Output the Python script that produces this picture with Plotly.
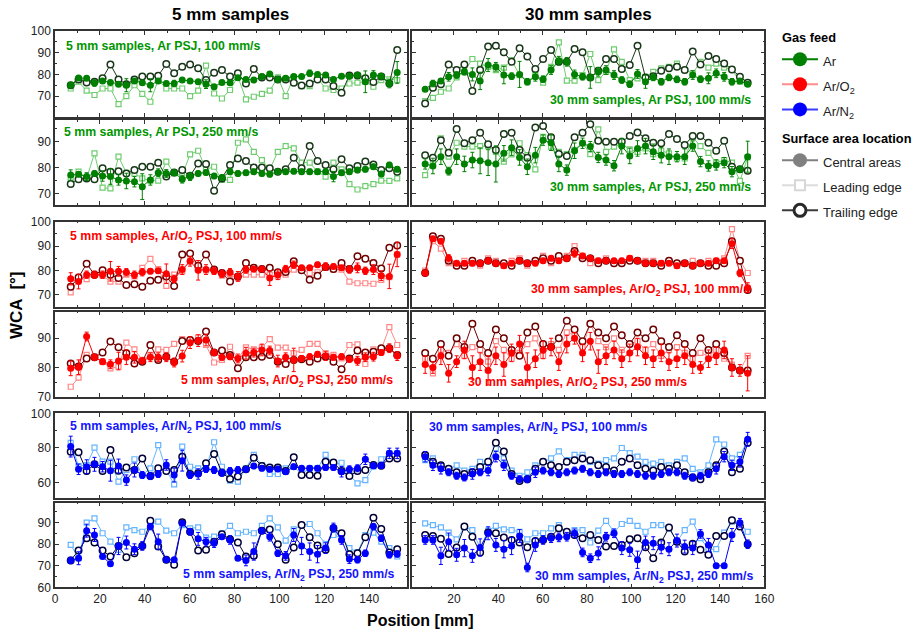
import plotly.graph_objects as go

# Measurement positions along the sample [mm]
position_mm = [7.0, 10.5, 14.1, 17.6, 21.2, 24.7, 28.3, 31.8, 35.4, 38.9,
               42.5, 46.0, 49.6, 53.1, 56.7, 60.2, 63.8, 67.3, 70.9, 74.4,
               78.0, 81.5, 85.1, 88.6, 92.2, 95.7, 99.3, 102.8, 106.4, 109.9,
               113.5, 117.0, 120.6, 124.1, 127.7, 131.2, 134.8, 138.3, 141.9, 145.4,
               149.0, 152.5]

# ---- Ar PSJ, 100 mm/s, 5 mm samples ----
ar100_5_central = [75.0, 78.3, 78.2, 76.0, 77.0, 76.3, 75.5, 75.0, 77.0, 76.2,
                   75.0, 77.0, 75.8, 75.8, 77.4, 77.0, 76.6, 75.5, 74.3, 76.3,
                   76.2, 78.5, 77.7, 77.4, 79.0, 80.2, 77.7, 78.2, 79.0, 79.0,
                   80.5, 80.0, 79.7, 77.7, 79.2, 79.2, 79.7, 76.6, 79.7, 79.2,
                   75.8, 80.9]
ar100_5_err = [1, 1, 1, 1.5, 1, 1, 1, 3, 1, 1, 3, 1, 1, 1.5, 1, 1, 1, 2, 1, 1,
               1, 1, 1, 1, 1, 1, 1, 1, 1, 1, 1.5, 1, 1, 1, 1, 1, 1, 5, 2, 1, 2, 5]
ar100_5_leading = [73.5, 76.6, 72.5, 70.5, 73.5, 73.5, 66.3, 70.0, 75.0, 71.0,
                   67.4, 77.4, 73.5, 73.5, 73.5, 70.0, 72.5, 84.0, 71.2, 68.9,
                   72.8, 79.0, 68.5, 69.7, 71.0, 72.5, 78.6, 70.0, 78.6, 74.6,
                   74.6, 78.2, 73.5, 72.8, 73.5, 75.8, 76.2, 76.6, 74.3, 77.4,
                   77.7, 77.4]
ar100_5_trailing = [75.0, 77.7, 76.3, 76.6, 78.2, 84.6, 77.7, 75.4, 77.7, 79.0,
                    79.0, 79.4, 84.8, 80.5, 83.5, 84.6, 82.8, 77.4, 80.8, 82.0,
                    79.0, 80.5, 75.8, 82.5, 78.6, 78.6, 77.7, 77.7, 76.2, 74.9,
                    75.8, 77.7, 77.7, 74.6, 71.5, 79.5, 79.5, 78.2, 76.5, 79.0,
                    75.8, 91.2]

# ---- Ar PSJ, 100 mm/s, 30 mm samples ----
ar100_30_central = [73.2, 75.8, 77.0, 78.9, 79.7, 81.2, 80.0, 77.0, 84.3, 83.5,
                    79.7, 79.2, 80.0, 76.6, 78.9, 77.8, 82.0, 86.3, 85.8, 80.0,
                    78.9, 78.6, 81.2, 82.0, 79.7, 77.4, 75.5, 80.2, 76.6, 78.6,
                    76.6, 78.6, 77.7, 76.6, 79.7, 77.8, 78.2, 80.5, 78.9, 76.6,
                    77.0, 75.5]
ar100_30_err = [1, 1.5, 1, 2, 1.5, 1.5, 3, 4, 3, 2, 4, 1.5, 6, 1.5, 2, 1.5, 2, 2, 2, 2,
                1.5, 5, 2, 2, 2, 1.5, 1.5, 2, 3, 1.5, 1.5, 1.5, 1.5, 1.5, 2, 1.5, 2.5, 2, 2, 1.5,
                1, 1]
ar100_30_leading = [67.7, 69.2, 72.0, 73.5, 78.6, 81.2, 87.1, 85.0, 83.5, 82.0,
                    83.1, 86.6, 79.7, 76.6, 79.7, 76.2, 83.5, 94.8, 77.1, 77.1,
                    79.7, 89.4, 77.4, 81.2, 91.5, 85.8, 77.4, 78.2, 78.9, 81.2,
                    82.8, 83.5, 85.0, 82.0, 80.5, 85.8, 83.1, 85.0, 83.1, 82.3,
                    76.6, 75.8]
ar100_30_trailing = [66.6, 73.8, 75.4, 84.6, 82.0, 84.6, 72.3, 82.0, 92.8, 93.2,
                     90.2, 85.8, 92.0, 88.2, 82.5, 87.1, 91.2, 85.8, 85.8, 91.7,
                     90.2, 78.6, 81.7, 87.1, 87.1, 82.5, 84.3, 93.2, 78.6, 79.2,
                     81.7, 82.8, 83.5, 82.0, 90.5, 84.6, 88.5, 87.1, 85.0, 82.3,
                     78.9, 76.2]

# ---- Ar PSJ, 250 mm/s, 5 mm samples ----
ar250_5_central = [77.1, 77.4, 76.5, 77.7, 76.7, 76.5, 75.2, 74.8, 74.5, 72.6,
                   75.2, 78.0, 77.7, 78.0, 75.5, 76.5, 77.7, 78.1, 76.7, 76.1,
                   78.4, 77.7, 78.0, 78.4, 77.7, 77.4, 78.4, 78.4, 78.6, 78.4,
                   78.4, 78.4, 78.4, 76.5, 78.0, 78.4, 79.0, 79.3, 80.3, 77.5,
                   81.0, 79.3]
ar250_5_err = [2, 1, 1.5, 1, 2, 3, 2, 3, 2, 5, 2, 1.5, 1.5, 1, 1.5, 1.5, 1, 1, 1, 1,
               1, 1, 1, 1, 1, 1, 1, 1, 1, 1, 1, 1, 1, 2, 1, 1, 1, 1, 1, 1, 1, 1]
ar250_5_leading = [75.2, 78.4, 75.8, 85.5, 72.2, 71.9, 84.2, 77.9, 77.7, 75.8,
                   74.9, 74.9, 82.3, 77.7, 77.1, 85.1, 86.5, 79.3, 80.3, 75.2,
                   75.2, 89.6, 90.9, 86.1, 82.9, 79.3, 86.1, 88.3, 87.4, 81.9,
                   81.9, 78.4, 76.5, 81.9, 79.3, 73.6, 71.5, 72.8, 73.6, 74.9,
                   74.8, 75.8]
ar250_5_trailing = [73.6, 75.5, 75.8, 75.5, 79.7, 78.4, 78.6, 77.7, 79.0, 80.3,
                    80.3, 81.9, 76.5, 78.1, 79.0, 76.8, 81.6, 81.4, 71.0, 75.8,
                    81.0, 83.5, 82.5, 80.0, 80.0, 79.7, 78.4, 79.3, 83.8, 79.7,
                    88.3, 82.5, 81.0, 79.3, 83.2, 79.7, 80.6, 82.3, 81.2, 79.0,
                    79.7, 78.4]

# ---- Ar PSJ, 250 mm/s, 30 mm samples ----
ar250_30_central = [81.4, 80.6, 84.2, 78.6, 84.2, 81.4, 82.9, 82.6, 81.9, 81.4,
                    85.5, 87.7, 83.9, 80.3, 84.8, 90.6, 89.6, 81.4, 79.0, 86.5,
                    89.4, 88.1, 83.9, 82.9, 80.7, 88.3, 84.5, 87.4, 88.3, 86.1,
                    84.8, 84.2, 84.2, 84.2, 88.3, 82.3, 80.6, 81.0, 81.9, 78.4,
                    79.3, 84.2]
ar250_30_err = [2, 3, 3, 1.5, 3, 3, 3, 5, 5, 7, 3, 3, 3, 3, 3, 2, 3, 3, 2, 3,
                2, 2, 2, 2, 2, 3, 3, 3, 3, 3, 3, 3, 2, 3, 2, 2, 2, 2, 2, 2, 1, 6]
ar250_30_leading = [77.1, 82.3, 91.3, 84.2, 89.6, 88.1, 88.1, 88.3, 88.3, 86.1,
                    82.3, 85.1, 89.4, 84.8, 79.3, 91.9, 88.1, 86.1, 85.2, 86.8,
                    89.6, 85.2, 94.8, 86.1, 88.1, 89.1, 87.0, 86.1, 87.4, 85.2,
                    86.5, 85.5, 83.5, 83.5, 91.7, 88.3, 85.7, 81.9, 82.9, 81.9,
                    74.8, 83.9]
ar250_30_trailing = [84.8, 83.8, 90.6, 85.7, 94.9, 89.4, 90.6, 93.5, 89.0, 86.8,
                     93.0, 93.5, 86.8, 83.8, 95.5, 96.1, 91.7, 85.2, 84.5, 91.7,
                     93.5, 96.8, 90.4, 90.0, 90.0, 90.0, 92.2, 93.6, 91.3, 89.6,
                     89.4, 93.0, 91.0, 88.7, 92.2, 92.2, 89.6, 86.5, 90.4, 80.3,
                     79.3, 78.8]

# ---- Ar/O2 PSJ, 100 mm/s, 5 mm samples ----
aro100_5_central = [76.6, 75.5, 78.3, 78.3, 78.3, 79.7, 79.7, 79.3, 78.3, 79.3,
                    79.7, 79.9, 78.7, 76.6, 80.4, 83.8, 80.1, 80.4, 79.9, 78.7,
                    79.3, 77.6, 80.4, 80.6, 80.6, 76.9, 78.3, 80.6, 82.4, 81.1,
                    81.1, 82.4, 81.7, 81.7, 81.1, 80.4, 81.1, 79.9, 80.4, 77.9,
                    77.6, 86.6]
aro100_5_err = [2.5, 3, 1.5, 1.5, 1.5, 4, 2, 1.5, 1.5, 1.5, 1, 1, 4, 1.5, 2, 2, 4, 2, 1.5, 1.5,
                1.5, 2, 1.5, 1, 1, 3, 2, 1.5, 1.5, 1, 1, 1, 1.5, 1, 1, 1.5, 2, 1.5, 2, 2,
                5, 5]
aro100_5_leading = [71.1, 76.5, 76.5, 78.3, 77.9, 75.5, 75.5, 78.3, 77.6, 81.1,
                    84.8, 80.6, 73.7, 78.3, 79.7, 84.1, 83.1, 80.1, 79.7, 77.9,
                    78.3, 76.9, 78.3, 78.3, 78.3, 78.3, 77.6, 78.3, 80.4, 80.4,
                    79.0, 79.3, 81.1, 80.4, 80.4, 75.5, 74.8, 74.8, 74.6, 76.2,
                    77.3, 86.6]
aro100_5_trailing = [73.4, 77.2, 82.8, 78.3, 80.1, 78.3, 76.9, 74.1, 74.4, 73.4,
                     75.8, 76.2, 77.6, 73.7, 86.6, 87.0, 82.0, 86.6, 80.4, 79.0,
                     75.5, 77.6, 83.1, 81.1, 80.6, 81.1, 79.3, 79.4, 83.8, 80.1,
                     76.2, 77.9, 81.5, 80.6, 83.1, 80.6, 85.9, 84.8, 83.1, 80.8,
                     89.3, 90.3]

# ---- Ar/O2 PSJ, 100 mm/s, 30 mm samples ----
aro100_30_central = [79, 93, 92, 85, 83, 83, 83, 83, 84, 83,
                     82, 83, 84, 83, 83, 84, 85, 84, 85, 87,
                     86, 85, 84, 84, 84, 84, 85, 84, 83, 83,
                     83, 83, 82, 83, 82, 83, 83, 84, 84, 91,
                     79, 73]
aro100_30_err = [1, 1, 1, 1.5, 1, 1, 1, 1, 1, 1, 1, 1, 1, 1, 1, 1, 1, 1, 1, 1.5,
                 1, 1, 1, 1, 1, 1, 1, 1, 1, 1, 1, 1, 1, 1, 1, 1, 1, 1, 1, 2,
                 1.5, 2]
aro100_30_leading = [80, 92, 89, 83, 82, 84, 83, 82, 85, 84,
                     82, 84, 85, 82, 84, 86, 83, 85, 86, 90,
                     86, 83, 84, 85, 83, 83, 85, 84, 84, 84,
                     83, 84, 82, 83, 84, 83, 84, 84, 85, 97,
                     84, 79]
aro100_30_trailing = [79, 94, 93, 84, 82, 82, 84, 83, 84, 83,
                      83, 82, 84, 83, 84, 85, 84, 86, 85, 88,
                      85, 85, 83, 84, 83, 83, 84, 84, 83, 83,
                      82, 84, 83, 83, 82, 83, 82, 82, 83, 92,
                      84, 72]

# ---- Ar/O2 PSJ, 250 mm/s, 5 mm samples ----
aro250_5_central = [79.7, 80.1, 90.6, 83.5, 82.0, 81.1, 82.2, 83.5, 83.5, 82.3,
                    83.5, 83.5, 83.5, 81.7, 83.9, 88.5, 89.2, 89.4, 85.1, 83.5,
                    83.7, 83.1, 84.9, 85.1, 86.0, 85.8, 82.2, 83.5, 82.6, 83.1,
                    83.7, 84.5, 83.9, 83.5, 83.7, 82.8, 82.3, 83.5, 83.7, 85.1,
                    86.6, 83.9]
aro250_5_err = [2.5, 2.5, 1.5, 1, 1, 1.5, 3, 2.5, 2, 1, 1.5, 1.5, 1.5, 1.5, 2, 2, 2, 2, 1, 1,
                1, 1.5, 2, 1.5, 2, 1.5, 2, 1.5, 4, 1, 1, 1, 1.5, 1, 1, 1, 1.5, 1.5, 1.5, 1,
                1.5, 1.5]
aro250_5_leading = [73.4, 76.5, 84.3, 83.7, 82.0, 79.7, 80.3, 88.5, 86.2, 82.6,
                    84.3, 86.2, 86.0, 88.1, 89.7, 88.9, 90.3, 87.7, 81.7, 82.6,
                    87.1, 83.1, 86.9, 86.2, 86.9, 89.7, 86.8, 86.8, 84.9, 86.0,
                    88.1, 88.1, 84.9, 84.3, 83.1, 87.7, 87.9, 81.2, 86.2, 86.2,
                    93.8, 87.7]
aro250_5_trailing = [81.4, 80.3, 83.1, 83.5, 85.1, 88.9, 86.9, 84.9, 81.4, 82.0,
                     87.7, 82.6, 83.7, 82.0, 89.1, 89.4, 89.1, 92.3, 85.1, 85.8,
                     84.3, 79.7, 83.5, 83.5, 83.7, 84.3, 82.0, 81.2, 82.6, 82.8,
                     82.0, 83.1, 83.7, 82.0, 79.4, 83.1, 85.8, 85.1, 85.4, 86.6,
                     86.6, 84.3]

# ---- Ar/O2 PSJ, 250 mm/s, 30 mm samples ----
aro250_30_central = [81, 80, 84, 78, 82, 86, 80, 82, 79, 84,
                     81, 85, 88, 80, 83, 86, 87, 82, 88, 90,
                     85, 89, 82, 84, 86, 83, 85, 87, 84, 83,
                     85, 82, 83, 84, 81, 80, 83, 84, 86, 80,
                     79, 78]
aro250_30_err = [3, 2, 3, 3, 2, 3, 4, 3, 5, 3, 4, 3, 3, 5, 3, 3, 3, 3, 3, 2,
                 3, 3, 4, 3, 3, 3, 3, 3, 3, 3, 3, 3, 3, 3, 3, 2, 3, 3, 3, 3,
                 2, 6]
aro250_30_leading = [83, 78, 86, 85, 88, 84, 87, 86, 82, 89,
                     86, 83, 85, 88, 90, 84, 88, 86, 92, 91,
                     87, 95, 89, 87, 90, 86, 88, 89, 86, 88,
                     84, 86, 87, 85, 83, 85, 84, 86, 83, 81,
                     79, 84]
aro250_30_trailing = [85, 83, 88, 84, 90, 87, 95, 88, 85, 93,
                      90, 86, 84, 92, 94, 88, 87, 90, 96, 93,
                      89, 95, 92, 90, 94, 91, 88, 92, 90, 93,
                      89, 87, 91, 88, 85, 90, 86, 88, 85, 80,
                      79, 79]

# ---- Ar/N2 PSJ, 100 mm/s, 5 mm samples ----
arn100_5_central = [80.8, 67.7, 69.2, 70.6, 69.2, 66.9, 69.6, 61.5, 67.3, 64.4,
                    63.8, 65.0, 70.2, 64.4, 72.7, 64.4, 65.0, 67.9, 67.3, 65.8,
                    66.7, 67.3, 67.7, 69.6, 68.3, 67.7, 67.9, 66.3, 69.2, 68.3,
                    68.3, 68.3, 68.7, 68.7, 66.3, 67.7, 68.3, 73.5, 69.8, 69.8,
                    76.9, 76.9]
arn100_5_err = [6, 3, 4, 4, 3, 6, 4, 3, 4, 2, 2, 2, 3, 4, 6, 2, 3, 2, 2, 2,
                2, 2, 1.5, 1.5, 1.5, 1.5, 1.5, 1.5, 1.5, 1.5, 1.5, 1.5, 1.5, 1.5, 3, 2, 2, 3, 1.5, 1.5,
                3, 3]
arn100_5_leading = [83.0, 69.6, 70.2, 80.2, 72.1, 72.1, 60.6, 67.3, 73.5, 64.4,
                    68.3, 81.7, 67.3, 59.0, 80.8, 69.2, 68.3, 68.3, 83.3, 69.2,
                    61.2, 60.6, 68.3, 76.0, 70.2, 65.0, 65.0, 68.3, 69.2, 65.0,
                    68.3, 68.3, 76.0, 70.2, 71.5, 64.4, 59.6, 61.5, 69.2, 73.5,
                    76.9, 76.9]
arn100_5_trailing = [77.9, 77.5, 66.7, 70.6, 66.7, 78.8, 66.9, 68.8, 67.3, 74.0,
                     63.8, 68.3, 66.7, 67.3, 75.0, 65.0, 65.4, 71.2, 76.5, 65.8,
                     62.1, 63.5, 67.7, 74.4, 69.6, 68.7, 68.7, 66.7, 74.6, 64.4,
                     64.4, 64.0, 72.1, 71.7, 66.7, 63.8, 66.7, 67.3, 70.2, 69.8,
                     74.0, 74.0]

# ---- Ar/N2 PSJ, 100 mm/s, 30 mm samples ----
arn100_30_central = [75, 70, 68, 66, 64, 63, 65, 66, 67, 75,
                     70, 64, 62, 62, 66, 67, 66, 65, 66, 67,
                     68, 66, 65, 66, 65, 65, 66, 65, 64, 64,
                     65, 66, 66, 64, 63, 64, 65, 68, 75, 70,
                     72, 85]
arn100_30_err = [3, 3, 3, 2, 2, 2, 3, 2, 3, 3, 3, 2, 2, 2, 3, 2, 2, 2, 2, 2,
                 2, 2, 2, 2, 2, 2, 2, 2, 2, 2, 2, 2, 2, 2, 2, 2, 2, 3, 3, 3,
                 3, 4]
arn100_30_leading = [73, 74, 70, 68, 70, 67, 68, 72, 70, 80,
                     74, 67, 64, 66, 70, 72, 74, 78, 73, 76,
                     76, 72, 71, 73, 74, 80, 77, 75, 72, 71,
                     72, 70, 72, 74, 68, 66, 70, 85, 82, 74,
                     76, 84]
arn100_30_trailing = [76, 72, 70, 68, 66, 65, 66, 69, 72, 83,
                      78, 65, 61, 62, 68, 72, 70, 69, 72, 73,
                      74, 73, 70, 69, 67, 72, 74, 70, 68, 67,
                      69, 68, 70, 66, 63, 62, 66, 70, 78, 66,
                      68, 83]

# ---- Ar/N2 PSJ, 250 mm/s, 5 mm samples ----
arn250_5_central = [72.5, 73.5, 86.3, 84.3, 74.3, 70.9, 79.2, 80.8, 77.7, 79.2,
                    88.2, 81.2, 72.8, 72.8, 89.7, 85.8, 82.5, 81.2, 80.5, 83.5,
                    82.0, 73.5, 72.5, 76.6, 86.3, 83.5, 75.8, 74.6, 84.3, 79.2,
                    76.6, 75.4, 78.2, 87.8, 82.0, 73.1, 72.8, 75.8, 88.2, 82.8,
                    75.1, 75.5]
arn250_5_err = [1.5, 3, 3, 3, 1, 1, 4, 3, 2.5, 2, 1.5, 3.5, 1, 1, 1, 1.5, 3, 2, 2, 1,
                2, 1, 2.5, 4, 1, 2, 1.5, 2, 3, 4, 4, 4, 2.5, 2, 2, 2, 1.5, 1.5, 1.5, 1.5,
                1.5, 1.5]
arn250_5_leading = [79.7, 73.5, 90.0, 92.0, 85.1, 81.2, 77.4, 87.8, 86.6, 85.8,
                    88.9, 90.5, 86.3, 85.1, 88.9, 87.4, 87.8, 83.1, 83.5, 85.1,
                    88.5, 85.1, 85.8, 85.1, 88.5, 92.0, 87.8, 81.7, 86.9, 88.9,
                    89.4, 85.1, 80.2, 84.3, 83.1, 78.2, 76.3, 84.3, 85.4, 81.2,
                    78.2, 74.3]
arn250_5_trailing = [72.5, 77.1, 82.8, 80.8, 77.1, 74.3, 79.2, 74.0, 75.8, 79.2,
                     90.9, 78.9, 72.8, 70.5, 90.2, 85.8, 77.1, 77.4, 81.2, 84.6,
                     82.3, 80.8, 74.3, 74.6, 86.3, 86.9, 80.0, 72.8, 78.5, 88.9,
                     83.2, 79.4, 77.4, 87.4, 85.1, 75.4, 75.8, 83.2, 92.3, 87.1,
                     76.2, 77.7]

# ---- Ar/N2 PSJ, 250 mm/s, 30 mm samples ----
arn250_30_central = [82.0, 82.0, 74.6, 81.2, 75.1, 78.2, 74.6, 78.5, 85.1, 79.7,
                     77.7, 79.2, 83.8, 69.2, 79.7, 82.0, 82.8, 83.2, 83.5, 85.1,
                     76.2, 73.5, 75.8, 83.5, 85.1, 78.2, 77.4, 72.8, 80.8, 80.5,
                     78.6, 77.7, 81.7, 78.9, 78.2, 84.8, 79.7, 70.0, 70.0, 84.3,
                     90.0, 80.0]
arn250_30_err = [2, 2, 4, 4, 3, 4, 3, 4, 3, 3, 4, 4, 3, 2, 3, 2, 2, 2, 2, 2,
                 2, 2, 3, 2, 2, 3, 3, 4, 3, 3, 3, 3, 3, 3, 3, 2, 3, 1, 1, 3,
                 2, 2]
arn250_30_leading = [89.7, 88.9, 87.8, 85.4, 82.3, 87.8, 86.6, 78.2, 86.3, 88.5,
                     86.9, 86.6, 85.8, 82.3, 85.1, 85.1, 87.4, 88.9, 85.4, 86.6,
                     86.6, 80.8, 86.3, 90.9, 85.8, 89.4, 90.9, 88.5, 85.8, 88.9,
                     88.9, 87.4, 81.2, 86.6, 90.5, 82.8, 77.7, 77.7, 85.4, 90.5,
                     89.7, 85.8]
arn250_30_trailing = [84.3, 83.8, 82.5, 75.5, 78.5, 88.2, 83.5, 76.2, 85.4, 85.1,
                      83.1, 82.0, 80.8, 78.6, 81.5, 82.0, 83.5, 87.4, 85.8, 84.3,
                      82.8, 84.3, 82.0, 78.9, 79.2, 79.7, 82.3, 82.8, 78.6, 73.5,
                      80.8, 87.8, 81.2, 76.6, 80.2, 77.4, 75.1, 83.8, 83.8, 91.2,
                      88.2, 80.0]

# Panel labels
panel_labels = [
    ["5 mm samples, Ar PSJ, 100 mm/s", "30 mm samples, Ar PSJ, 100 mm/s"],
    ["5 mm samples, Ar PSJ, 250 mm/s", "30 mm samples, Ar PSJ, 250 mm/s"],
    ["5 mm samples, Ar/O<sub>2</sub> PSJ, 100 mm/s", "30 mm samples, Ar/O<sub>2</sub> PSJ, 100 mm/s"],
    ["5 mm samples, Ar/O<sub>2</sub> PSJ, 250 mm/s", "30 mm samples, Ar/O<sub>2</sub> PSJ, 250 mm/s"],
    ["5 mm samples, Ar/N<sub>2</sub> PSJ, 100 mm/s", "30 mm samples, Ar/N<sub>2</sub> PSJ, 100 mm/s"],
    ["5 mm samples, Ar/N<sub>2</sub> PSJ, 250 mm/s", "30 mm samples, Ar/N<sub>2</sub> PSJ, 250 mm/s"],
]

# Colour schemes per gas: (central, leading edge, trailing edge, label text)
gas_colors = {
    "Ar": ("rgb(0,128,0)", "rgb(110,205,110)", "rgb(25,55,25)", "rgb(0,150,0)"),
    "ArO2": ("rgb(255,0,0)", "rgb(255,135,135)", "rgb(110,0,0)", "rgb(255,0,0)"),
    "ArN2": ("rgb(0,0,255)", "rgb(100,180,255)", "rgb(0,0,55)", "rgb(20,20,255)"),
}

panels = [
    ("Ar", [(ar100_5_central, ar100_5_err, ar100_5_leading, ar100_5_trailing),
            (ar100_30_central, ar100_30_err, ar100_30_leading, ar100_30_trailing)]),
    ("Ar", [(ar250_5_central, ar250_5_err, ar250_5_leading, ar250_5_trailing),
            (ar250_30_central, ar250_30_err, ar250_30_leading, ar250_30_trailing)]),
    ("ArO2", [(aro100_5_central, aro100_5_err, aro100_5_leading, aro100_5_trailing),
              (aro100_30_central, aro100_30_err, aro100_30_leading, aro100_30_trailing)]),
    ("ArO2", [(aro250_5_central, aro250_5_err, aro250_5_leading, aro250_5_trailing),
              (aro250_30_central, aro250_30_err, aro250_30_leading, aro250_30_trailing)]),
    ("ArN2", [(arn100_5_central, arn100_5_err, arn100_5_leading, arn100_5_trailing),
              (arn100_30_central, arn100_30_err, arn100_30_leading, arn100_30_trailing)]),
    ("ArN2", [(arn250_5_central, arn250_5_err, arn250_5_leading, arn250_5_trailing),
              (arn250_30_central, arn250_30_err, arn250_30_leading, arn250_30_trailing)]),
]

W, H = 913, 635
col_px = [(55, 407.3), (412.3, 764.3)]
row_px = [(31, 116.7), (120, 205), (221.7, 306.7), (311.7, 396.7), (413.3, 498.3), (502.7, 587.3)]
y_ranges = [[60.5, 100], [65.5, 98.4], [65.2, 100], [70, 99.1], [51, 100], [60, 99.3]]
y_dticks = [10, 10, 10, 10, 20, 10]
x_ranges = [[0, 157], [1.2, 160]]

# label placement: (x px, y px, anchor)
label_pos = [
    [(64, 46, "left"), (753, 100, "right")],
    [(62, 132, "left"), (753, 187, "right")],
    [(68, 237, "left"), (752, 290, "right")],
    [(395, 381, "right"), (466, 383, "left")],
    [(68, 427, "left"), (427, 428, "left")],
    [(397, 575, "right"), (755, 577, "right")],
]

FONT = "Arial, Liberation Sans, sans-serif"
AXC = "#333333"
TICKFONT = dict(family=FONT, size=12, color="#222222")

fig = go.Figure()
layout = {}

for r, (gas, cols) in enumerate(panels):
    c_cen, c_lead, c_trail, c_txt = gas_colors[gas]
    for c, (cen, err, lead, trail) in enumerate(cols):
        k = r * 2 + c + 1
        xa, ya = f"x{k}", f"y{k}"
        fig.add_trace(go.Scatter(
            x=position_mm, y=lead, xaxis=xa, yaxis=ya, mode="lines+markers",
            line=dict(color=c_lead, width=1),
            marker=dict(symbol="square", size=5, color="white", line=dict(color=c_lead, width=1.2)),
            showlegend=False, hoverinfo="skip"))
        fig.add_trace(go.Scatter(
            x=position_mm, y=trail, xaxis=xa, yaxis=ya, mode="lines+markers",
            line=dict(color=c_trail, width=1),
            marker=dict(symbol="circle", size=6.5, color="white", line=dict(color=c_trail, width=1.5)),
            showlegend=False, hoverinfo="skip"))
        fig.add_trace(go.Scatter(
            x=position_mm, y=cen, xaxis=xa, yaxis=ya, mode="lines+markers",
            line=dict(color=c_cen, width=1),
            marker=dict(symbol="circle", size=7, color=c_cen),
            error_y=dict(type="data", array=err, color=c_cen, thickness=1, width=2),
            showlegend=False, hoverinfo="skip"))

        x0, x1 = col_px[c]
        y0, y1 = row_px[r]
        axname = "" if k == 1 else str(k)
        layout["xaxis" + axname] = dict(
            domain=[x0 / W, x1 / W], range=x_ranges[c], anchor=ya,
            showline=True, mirror="allticks", linecolor=AXC, linewidth=1.5,
            ticks="inside", ticklen=4, tickwidth=1, tickcolor=AXC,
            tick0=0, dtick=20, minor=dict(ticks="inside", ticklen=2, dtick=10, tickcolor=AXC),
            showticklabels=(r == 5), tickfont=TICKFONT,
            showgrid=False, zeroline=False)
        layout["yaxis" + axname] = dict(
            domain=[1 - y1 / H, 1 - y0 / H], range=y_ranges[r], anchor=xa,
            showline=True, mirror="allticks", linecolor=AXC, linewidth=1.5,
            ticks="inside", ticklen=4, tickwidth=1, tickcolor=AXC,
            tick0=0, dtick=y_dticks[r],
            minor=dict(ticks="inside", ticklen=2, dtick=y_dticks[r] / 2, tickcolor=AXC),
            showticklabels=(c == 0), tickfont=TICKFONT,
            showgrid=False, zeroline=False)

annotations = []
for r, (gas, _) in enumerate(panels):
    c_txt = gas_colors[gas][3]
    for c in range(2):
        px, py, anc = label_pos[r][c]
        annotations.append(dict(
            text=panel_labels[r][c], x=px / W, y=1 - py / H, xref="paper", yref="paper",
            xanchor=anc, yanchor="middle", showarrow=False,
            font=dict(family=FONT, size=12.3, color=c_txt, weight="bold")))

BOLD = dict(family=FONT, size=17, color="black", weight="bold")
annotations += [
    dict(text="5 mm samples", x=231 / W, y=1 - 15 / H, xref="paper", yref="paper",
         showarrow=False, font=BOLD, xanchor="center", yanchor="middle"),
    dict(text="30 mm samples", x=588 / W, y=1 - 15 / H, xref="paper", yref="paper",
         showarrow=False, font=BOLD, xanchor="center", yanchor="middle"),
    dict(text="WCA  [°]", x=16 / W, y=1 - 305 / H, xref="paper", yref="paper", textangle=-90,
         showarrow=False, font=BOLD, xanchor="center", yanchor="middle"),
    dict(text="Position [mm]", x=420 / W, y=1 - 620 / H, xref="paper", yref="paper",
         showarrow=False, font=dict(BOLD, size=16), xanchor="center", yanchor="middle"),
]

# Legend entries (the larger legend font only sets row spacing; labels render at 13 px)
legend_items = [
    ("Ar", "gas", "Gas feed", dict(symbol="circle", size=14, color="rgb(0,128,0)"), "rgb(0,128,0)"),
    ("Ar/O<sub>2</sub>", "gas", "Gas feed", dict(symbol="circle", size=14, color="rgb(255,0,0)"), "rgb(255,140,140)"),
    ("Ar/N<sub>2</sub>", "gas", "Gas feed", dict(symbol="circle", size=14, color="rgb(0,0,255)"), "rgb(60,60,255)"),
    ("Central areas", "loc", "Surface area location",
     dict(symbol="circle", size=14, color="rgb(128,128,128)"), "rgb(128,128,128)"),
    ("Leading edge", "loc", "Surface area location",
     dict(symbol="square", size=10, color="white", line=dict(color="rgb(215,215,215)", width=2)), "rgb(220,220,220)"),
    ("Trailing edge", "loc", "Surface area location",
     dict(symbol="circle", size=12, color="white", line=dict(color="rgb(40,40,40)", width=3)), "rgb(60,60,60)"),
]
for name, grp, title, mk, lc in legend_items:
    fig.add_trace(go.Scatter(
        x=[None], y=[None], mode="lines+markers",
        name=f'<span style="font-size:13px">{name}</span>', legendgroup=grp,
        legendgrouptitle=dict(text=title, font=dict(family=FONT, size=12.8, color="black", weight="bold")),
        marker=mk, line=dict(color=lc, width=2), xaxis="x", yaxis="y"))

fig.update_layout(
    **layout,
    annotations=annotations,
    width=W, height=H,
    margin=dict(l=0, r=0, t=0, b=0, autoexpand=False),
    paper_bgcolor="white", plot_bgcolor="white",
    showlegend=True,
    legend=dict(x=777 / W, y=1 - 22 / H, xanchor="left", yanchor="top",
                traceorder="grouped", tracegroupgap=6, itemwidth=36,
                font=dict(family=FONT, size=17, color="#222222"),
                bgcolor="rgba(0,0,0,0)"),
)

fig.write_html("out.html")
